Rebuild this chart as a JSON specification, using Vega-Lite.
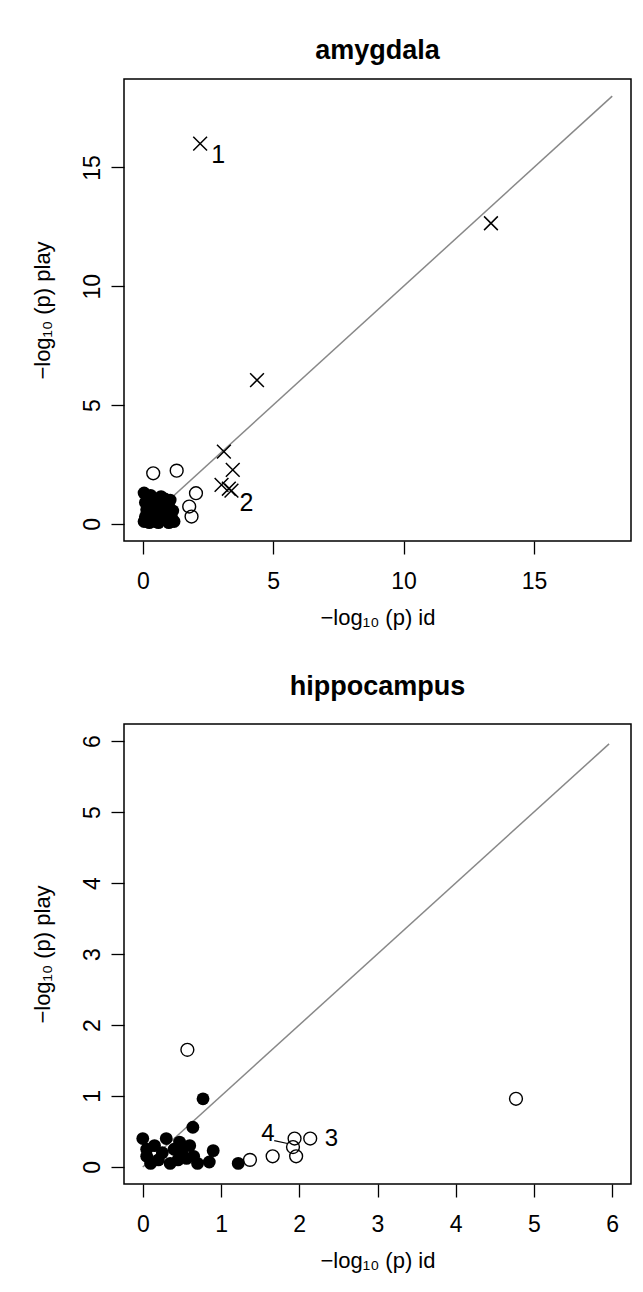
{
  "$schema": "https://vega.github.io/schema/vega-lite/v6.json",
  "background": "white",
  "padding": {"left": 30, "top": 36, "right": 5, "bottom": 5},
  "spacing": 43,
  "config": {
    "font": "Liberation Sans",
    "view": {"stroke": "black", "strokeWidth": 1.5},
    "axis": {"grid": false, "domain": false, "tickColor": "black", "tickSize": 13, "tickWidth": 1.3, "labelColor": "black", "labelFontSize": 23, "labelFont": "Liberation Sans", "titleFont": "Liberation Sans", "titleFontWeight": "normal", "titleFontSize": 22, "titleColor": "black", "format": "d"},
    "axisX": {"labelBaseline": "alphabetic", "labelPadding": 34, "titlePadding": 14},
    "axisY": {"labelAngle": -90, "labelAlign": "center", "labelBaseline": "alphabetic", "labelPadding": 12, "titlePadding": 27},
    "title": {"fontSize": 27, "font": "Liberation Sans", "fontWeight": "bold", "anchor": "middle", "offset": 14, "color": "black"}
  },
  "vconcat": [
    {
      "title": "amygdala",
      "width": 507,
      "height": 462,
      "data": {"values": [
        {"x": 2.2, "y": 16.0, "t": "x"}, {"x": 13.35, "y": 12.65, "t": "x"}, {"x": 4.38, "y": 6.05, "t": "x"},
        {"x": 3.11, "y": 3.04, "t": "x"}, {"x": 3.45, "y": 2.27, "t": "x"}, {"x": 3.02, "y": 1.64, "t": "x"},
        {"x": 3.3, "y": 1.48, "t": "x"}, {"x": 3.4, "y": 1.4, "t": "x"},
        {"x": 0.4, "y": 2.13, "t": "o"}, {"x": 1.3, "y": 2.24, "t": "o"}, {"x": 2.04, "y": 1.29, "t": "o"},
        {"x": 1.78, "y": 0.73, "t": "o"}, {"x": 1.87, "y": 0.31, "t": "o"},
        {"x": 0.05, "y": 0.1, "t": "f"}, {"x": 0.1, "y": 0.3, "t": "f"}, {"x": 0.15, "y": 0.6, "t": "f"}, {"x": 0.1, "y": 0.9, "t": "f"},
        {"x": 0.05, "y": 1.3, "t": "f"}, {"x": 0.2, "y": 1.1, "t": "f"}, {"x": 0.3, "y": 0.2, "t": "f"}, {"x": 0.35, "y": 0.5, "t": "f"},
        {"x": 0.4, "y": 0.8, "t": "f"}, {"x": 0.45, "y": 1.0, "t": "f"}, {"x": 0.5, "y": 0.1, "t": "f"}, {"x": 0.55, "y": 0.35, "t": "f"},
        {"x": 0.6, "y": 0.7, "t": "f"}, {"x": 0.65, "y": 1.0, "t": "f"}, {"x": 0.7, "y": 0.2, "t": "f"}, {"x": 0.75, "y": 0.5, "t": "f"},
        {"x": 0.8, "y": 0.85, "t": "f"}, {"x": 0.85, "y": 1.05, "t": "f"}, {"x": 0.9, "y": 0.15, "t": "f"}, {"x": 0.95, "y": 0.4, "t": "f"},
        {"x": 1.0, "y": 0.7, "t": "f"}, {"x": 1.05, "y": 1.0, "t": "f"}, {"x": 1.1, "y": 0.3, "t": "f"}, {"x": 1.15, "y": 0.55, "t": "f"},
        {"x": 1.2, "y": 0.1, "t": "f"}, {"x": 0.25, "y": 0.05, "t": "f"}, {"x": 0.6, "y": 0.05, "t": "f"}, {"x": 1.0, "y": 0.05, "t": "f"},
        {"x": 0.3, "y": 1.2, "t": "f"}, {"x": 0.7, "y": 1.15, "t": "f"}
      ]},
      "layer": [
        {
          "data": {"values": [{"x": 0, "y": 0}, {"x": 18, "y": 18}]},
          "mark": {"type": "line", "color": "#888888", "strokeWidth": 1.5},
          "encoding": {
            "x": {"field": "x", "type": "quantitative", "scale": {"domain": [-0.72, 18.72], "nice": false, "zero": false}, "axis": {"values": [0, 5, 10, 15], "title": "\u2212log\u2081\u2080 (p) id"}},
            "y": {"field": "y", "type": "quantitative", "scale": {"domain": [-0.72, 18.72], "nice": false, "zero": false}, "axis": {"values": [0, 5, 10, 15], "title": "\u2212log\u2081\u2080 (p) play"}}
          }
        },
        {
          "transform": [{"filter": "datum.t == 'f'"}],
          "mark": {"type": "point", "shape": "circle", "filled": true, "fill": "black", "size": 165, "opacity": 1},
          "encoding": {"x": {"field": "x", "type": "quantitative"}, "y": {"field": "y", "type": "quantitative"}}
        },
        {
          "transform": [{"filter": "datum.t == 'o'"}],
          "mark": {"type": "point", "shape": "circle", "filled": false, "stroke": "black", "strokeWidth": 1.4, "size": 165, "opacity": 1},
          "encoding": {"x": {"field": "x", "type": "quantitative"}, "y": {"field": "y", "type": "quantitative"}}
        },
        {
          "transform": [{"filter": "datum.t == 'x'"}],
          "mark": {"type": "point", "shape": "M-1,-1L1,1M1,-1L-1,1", "filled": false, "stroke": "black", "strokeWidth": 1.5, "size": 190, "opacity": 1},
          "encoding": {"x": {"field": "x", "type": "quantitative"}, "y": {"field": "y", "type": "quantitative"}}
        },
        {
          "data": {"values": [{"x": 2.89, "y": 15.54, "label": "1"}, {"x": 3.98, "y": 0.87, "label": "2"}]},
          "mark": {"type": "text", "fontSize": 25, "align": "center", "baseline": "middle", "color": "black"},
          "encoding": {"x": {"field": "x", "type": "quantitative"}, "y": {"field": "y", "type": "quantitative"}, "text": {"field": "label"}}
        }
      ]
    },
    {
      "title": {"text": "hippocampus", "offset": 23},
      "width": 507,
      "height": 460,
      "data": {"values": [
        {"x": 0.57, "y": 1.65, "t": "o"}, {"x": 4.77, "y": 0.96, "t": "o"}, {"x": 1.37, "y": 0.1, "t": "o"},
        {"x": 1.66, "y": 0.15, "t": "o"}, {"x": 1.94, "y": 0.4, "t": "o"}, {"x": 1.92, "y": 0.28, "t": "o"},
        {"x": 1.96, "y": 0.15, "t": "o"}, {"x": 2.14, "y": 0.4, "t": "o"},
        {"x": 0.77, "y": 0.96, "t": "f"}, {"x": 0.64, "y": 0.56, "t": "f"}, {"x": 1.22, "y": 0.05, "t": "f"},
        {"x": 0.0, "y": 0.4, "t": "f"}, {"x": 0.05, "y": 0.15, "t": "f"}, {"x": 0.1, "y": 0.05, "t": "f"}, {"x": 0.15, "y": 0.3, "t": "f"},
        {"x": 0.2, "y": 0.1, "t": "f"}, {"x": 0.25, "y": 0.2, "t": "f"}, {"x": 0.3, "y": 0.4, "t": "f"}, {"x": 0.35, "y": 0.05, "t": "f"},
        {"x": 0.4, "y": 0.25, "t": "f"}, {"x": 0.47, "y": 0.35, "t": "f"}, {"x": 0.45, "y": 0.1, "t": "f"}, {"x": 0.5, "y": 0.2, "t": "f"},
        {"x": 0.56, "y": 0.12, "t": "f"}, {"x": 0.6, "y": 0.3, "t": "f"}, {"x": 0.65, "y": 0.15, "t": "f"}, {"x": 0.7, "y": 0.05, "t": "f"},
        {"x": 0.85, "y": 0.07, "t": "f"}, {"x": 0.9, "y": 0.23, "t": "f"}, {"x": 0.05, "y": 0.25, "t": "f"}
      ]},
      "layer": [
        {
          "data": {"values": [{"x": 0, "y": 0}, {"x": 5.96, "y": 5.96}]},
          "mark": {"type": "line", "color": "#888888", "strokeWidth": 1.5},
          "encoding": {
            "x": {"field": "x", "type": "quantitative", "scale": {"domain": [-0.24, 6.24], "nice": false, "zero": false}, "axis": {"values": [0, 1, 2, 3, 4, 5, 6], "title": "\u2212log\u2081\u2080 (p) id"}},
            "y": {"field": "y", "type": "quantitative", "scale": {"domain": [-0.24, 6.24], "nice": false, "zero": false}, "axis": {"values": [0, 1, 2, 3, 4, 5, 6], "title": "\u2212log\u2081\u2080 (p) play"}}
          }
        },
        {
          "transform": [{"filter": "datum.t == 'f'"}],
          "mark": {"type": "point", "shape": "circle", "filled": true, "fill": "black", "size": 165, "opacity": 1},
          "encoding": {"x": {"field": "x", "type": "quantitative"}, "y": {"field": "y", "type": "quantitative"}}
        },
        {
          "transform": [{"filter": "datum.t == 'o'"}],
          "mark": {"type": "point", "shape": "circle", "filled": false, "stroke": "black", "strokeWidth": 1.4, "size": 165, "opacity": 1},
          "encoding": {"x": {"field": "x", "type": "quantitative"}, "y": {"field": "y", "type": "quantitative"}}
        },
        {
          "data": {"values": [{"x": 1.68, "y": 0.37, "x2": 1.85, "y2": 0.33}]},
          "mark": {"type": "rule", "color": "black", "strokeWidth": 1.2},
          "encoding": {"x": {"field": "x", "type": "quantitative"}, "y": {"field": "y", "type": "quantitative"}, "x2": {"field": "x2"}, "y2": {"field": "y2"}}
        },
        {
          "data": {"values": [{"x": 2.41, "y": 0.4, "label": "3"}, {"x": 1.6, "y": 0.47, "label": "4"}]},
          "mark": {"type": "text", "fontSize": 24, "align": "center", "baseline": "middle", "color": "black"},
          "encoding": {"x": {"field": "x", "type": "quantitative"}, "y": {"field": "y", "type": "quantitative"}, "text": {"field": "label"}}
        }
      ]
    }
  ]
}
